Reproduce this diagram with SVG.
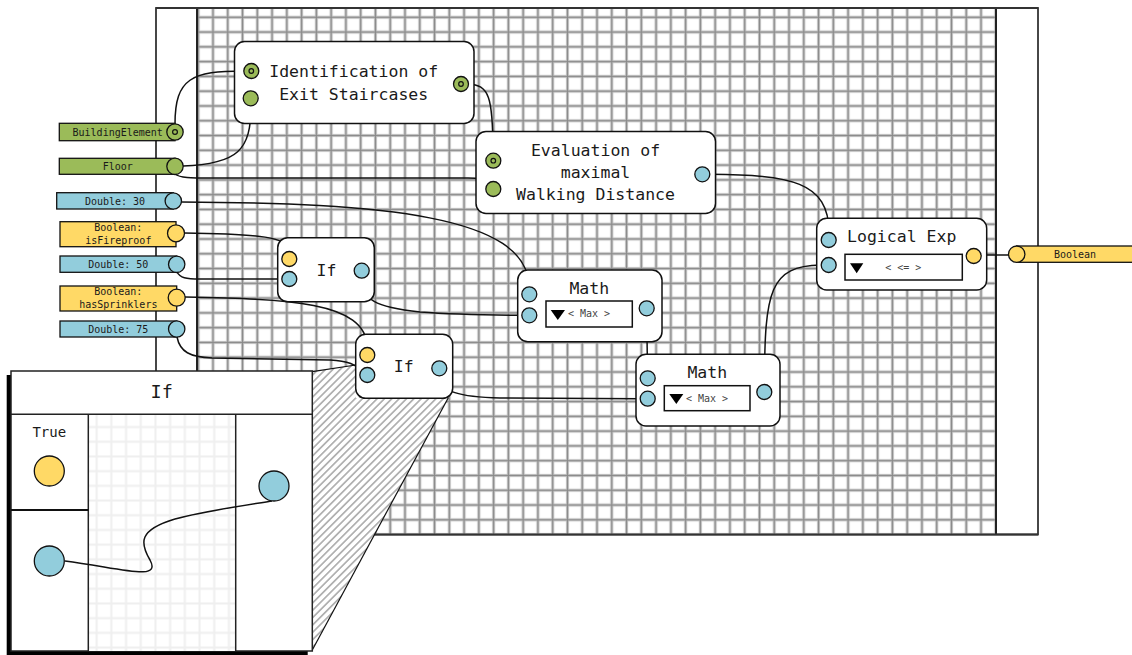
<svg xmlns="http://www.w3.org/2000/svg" width="1132" height="655" viewBox="0 0 1132 655">
<style>
text{font-family:"DejaVu Sans Mono","Liberation Mono",monospace;fill:#1a1a1a;text-anchor:middle}
.t{font-size:16.5px}
.s{font-size:10px}
.dd{font-size:10px;fill:#444}
.node{fill:#fff;stroke:#111;stroke-width:1.5}
.g{fill:#9bbb59;stroke:#111;stroke-width:1.3}
.b{fill:#92cddc;stroke:#111;stroke-width:1.3}
.y{fill:#ffd966;stroke:#111;stroke-width:1.3}
.ring{fill:none;stroke:#111;stroke-width:1.2}
.c{fill:none;stroke:#111;stroke-width:1.5}
.box{fill:#fff;stroke:#111;stroke-width:1.5}
.edge{stroke:#111;stroke-width:1.2;fill:none}
</style>
<defs>
<pattern id="grid" patternUnits="userSpaceOnUse" x="205.6" y="9.9" width="14.77" height="14.78">
<rect width="14.77" height="14.78" fill="#fff"/>
<line x1="7.385" y1="0" x2="7.385" y2="14.78" stroke="#c8c8c8" stroke-width="3.2"/>
<line x1="0" y1="7.39" x2="14.77" y2="7.39" stroke="#c8c8c8" stroke-width="3.2"/>
<line x1="7.385" y1="0" x2="7.385" y2="14.78" stroke="#8a8a8a" stroke-width="1.3"/>
<line x1="0" y1="7.39" x2="14.77" y2="7.39" stroke="#8a8a8a" stroke-width="1.3"/>
</pattern>
<pattern id="fgrid" patternUnits="userSpaceOnUse" x="89.3" y="419.7" width="14.7" height="14.7">
<rect width="14.7" height="14.7" fill="#fff"/>
<line x1="7.35" y1="0" x2="7.35" y2="14.7" stroke="#efefef" stroke-width="2"/>
<line x1="0" y1="7.35" x2="14.7" y2="7.35" stroke="#efefef" stroke-width="2"/>
</pattern>
<pattern id="hatch" patternUnits="userSpaceOnUse" width="5.2" height="5.2" patternTransform="rotate(45)">
<rect width="5.2" height="5.2" fill="#fff"/>
<line x1="2.6" y1="0" x2="2.6" y2="5.2" stroke="#777" stroke-width="1"/>
</pattern>
</defs>

<g id="frame">
<rect x="156" y="8" width="882" height="526.5" fill="#fff" stroke="#333" stroke-width="1.8"/>
<rect x="197" y="8" width="799" height="526.5" fill="url(#grid)"/>
<line x1="197" y1="8" x2="197" y2="534.5" stroke="#222" stroke-width="2"/>
<line x1="996" y1="8" x2="996" y2="534.5" stroke="#222" stroke-width="2"/>
<line x1="156" y1="8" x2="1038" y2="8" stroke="#333" stroke-width="2"/>
<line x1="156" y1="534.5" x2="1038" y2="534.5" stroke="#333" stroke-width="2"/>
</g>

<g id="zoom-hatch">
<polygon points="312.3,371.7 355.7,365 355.7,398 448.3,397.7 312.3,650" fill="url(#hatch)"/>
<line class="edge" x1="312.3" y1="371.7" x2="355.7" y2="365"/>
<line class="edge" x1="448.3" y1="397.7" x2="312.3" y2="650"/>
</g>

<g id="connectors">
<path class="c" d="M175,124 C175,78 192,71 244,71"/>
<path class="c" d="M183,166 C238,164 251,150 251,106"/>
<path class="c" d="M468,84 C489,85 493,96 493,153"/>
<path class="c" d="M175,174 C180,178 190,178 212,178 L468,178 C480,178 486,180 488,183"/>
<path class="c" d="M181,202 C380,203 529,215 529,287"/>
<path class="c" d="M184,233 C260,234 289,237 289,251"/>
<path class="c" d="M177,272 C180,278 186,279 200,279 L281.5,279"/>
<path class="c" d="M185,297 C285,299 367,301 367,347"/>
<path class="c" d="M177,337 C180,352 190,357 212,358 L330,360 C349,361 356,365 361,370"/>
<path class="c" d="M362,278 C362,300 375,307 420,312 C460,315 500,315 521.5,315.3"/>
<path class="c" d="M439.3,376 C440,392 460,397 500,398 L640,398.7"/>
<path class="c" d="M646.7,316 L647.5,371"/>
<path class="c" d="M710,174.3 C790,175 829,181 829,232.5"/>
<path class="c" d="M764.5,384.5 C764.5,290 770,266 821,265"/>
<path class="c" d="M981,255 L1009,255"/>
</g>

<g id="node-identification">
<rect class="node" x="234.5" y="41.5" width="239.5" height="82" rx="10"/>
<text class="t" x="353.7" y="77">Identification of</text>
<text class="t" x="353.7" y="99.5">Exit Staircases</text>
<circle class="g" cx="251.3" cy="71" r="7.5"/><circle class="ring" cx="251.3" cy="71" r="2.3"/>
<circle class="g" cx="250.7" cy="98.3" r="7.5"/>
<circle class="g" cx="461" cy="84" r="7.5"/><circle class="ring" cx="461" cy="84" r="2.3"/>
</g>

<g id="node-evaluation">
<rect class="node" x="476" y="131.5" width="239.5" height="82" rx="10"/>
<text class="t" x="595.5" y="156">Evaluation of</text>
<text class="t" x="595.5" y="177.5">maximal</text>
<text class="t" x="595.5" y="199.5">Walking Distance</text>
<circle class="g" cx="493.3" cy="160.7" r="7.5"/><circle class="ring" cx="493.3" cy="160.7" r="2.3"/>
<circle class="g" cx="493.3" cy="189" r="7.5"/>
<circle class="b" cx="702.3" cy="174.3" r="7.5"/>
</g>

<g id="node-if1">
<rect class="node" x="277.7" y="237.7" width="96.6" height="64" rx="10"/>
<text class="t" x="326.5" y="275.7">If</text>
<circle class="y" cx="289.3" cy="259" r="7.5"/>
<circle class="b" cx="289.3" cy="279" r="7.5"/>
<circle class="b" cx="361.7" cy="270.7" r="7.5"/>
</g>

<g id="node-if2">
<rect class="node" x="355.7" y="334.3" width="97" height="64" rx="10"/>
<text class="t" x="403.8" y="372.3">If</text>
<circle class="y" cx="367.3" cy="355" r="7.5"/>
<circle class="b" cx="367.3" cy="375" r="7.5"/>
<circle class="b" cx="439.3" cy="368.3" r="7.5"/>
</g>

<g id="node-math1">
<rect class="node" x="517.7" y="270" width="144.3" height="71.7" rx="10"/>
<text class="t" x="589.3" y="294">Math</text>
<rect class="box" x="546" y="301" width="86.3" height="26"/>
<polygon points="550.7,310 565,310 557.8,320" fill="#000"/>
<text class="dd" x="589" y="317">&lt; Max &gt;</text>
<circle class="b" cx="529.3" cy="294.3" r="7.5"/>
<circle class="b" cx="529.3" cy="315.3" r="7.5"/>
<circle class="b" cx="646.7" cy="308.3" r="7.5"/>
</g>

<g id="node-math2">
<rect class="node" x="636" y="354.3" width="144" height="71.7" rx="10"/>
<text class="t" x="707.3" y="378.3">Math</text>
<rect class="box" x="664.3" y="385.7" width="85.7" height="25"/>
<polygon points="669.3,394 683.3,394 676.3,404" fill="#000"/>
<text class="dd" x="707" y="402">&lt; Max &gt;</text>
<circle class="b" cx="647.7" cy="378.3" r="7.5"/>
<circle class="b" cx="647.7" cy="398.7" r="7.5"/>
<circle class="b" cx="764.3" cy="392" r="7.5"/>
</g>

<g id="node-logical">
<rect class="node" x="816.7" y="218.3" width="170" height="71.7" rx="10"/>
<text class="t" x="901.7" y="242.3">Logical Exp</text>
<rect class="box" x="845" y="254.3" width="117.3" height="25.7"/>
<polygon points="850,263.3 863.3,263.3 856.7,273.3" fill="#000"/>
<text class="dd" x="903.3" y="270.5">&lt; &lt;= &gt;</text>
<circle class="b" cx="828.7" cy="240" r="7.5"/>
<circle class="b" cx="828.7" cy="265" r="7.5"/>
<circle class="y" cx="973.7" cy="256" r="7.5"/>
</g>

<g id="in-buildingelement">
<rect class="g" x="59.3" y="123.3" width="115.7" height="17.4"/>
<circle class="g" cx="175" cy="132" r="8.2"/><circle class="ring" cx="175" cy="132" r="2.4"/>
<text class="s" x="117.7" y="135.5">BuildingElement</text>
</g>
<g id="in-floor">
<rect class="g" x="59.3" y="158.3" width="115.7" height="16"/>
<circle class="g" cx="175" cy="166.3" r="8.2"/>
<text class="s" x="117.7" y="169.7">Floor</text>
</g>
<g id="in-double30">
<rect class="b" x="56.7" y="192.7" width="116.6" height="16.3"/>
<circle class="b" cx="173.3" cy="201" r="8.2"/>
<text class="s" x="115" y="204.5">Double: 30</text>
</g>
<g id="in-isfireproof">
<rect class="y" x="60" y="221.7" width="116" height="25"/>
<circle class="y" cx="176" cy="233.3" r="8.5"/>
<text class="s" x="118.3" y="231">Boolean:</text>
<text class="s" x="118.3" y="243.5">isFireproof</text>
</g>
<g id="in-double50">
<rect class="b" x="60" y="256" width="116.7" height="16.3"/>
<circle class="b" cx="176.7" cy="264.3" r="8.2"/>
<text class="s" x="118.3" y="267.8">Double: 50</text>
</g>
<g id="in-hassprinklers">
<rect class="y" x="60" y="286" width="116.7" height="25"/>
<circle class="y" cx="176.7" cy="297.7" r="8.5"/>
<text class="s" x="118.3" y="295.3">Boolean:</text>
<text class="s" x="118.3" y="307.8">hasSprinklers</text>
</g>
<g id="in-double75">
<rect class="b" x="60" y="321" width="116.7" height="16"/>
<circle class="b" cx="176.7" cy="329" r="8.2"/>
<text class="s" x="118.3" y="332.7">Double: 75</text>
</g>

<g id="out-boolean">
<rect class="y" x="1016.7" y="246" width="130" height="16.3"/>
<circle class="y" cx="1016.7" cy="254.2" r="8.2"/>
<text class="s" x="1075" y="257.6">Boolean</text>
</g>

<g id="zoom-panel">
<rect x="6.7" y="375" width="301" height="285" fill="#000"/>
<rect x="11" y="371" width="301.3" height="280" fill="#fff" stroke="#222" stroke-width="1.5"/>
<rect x="88.3" y="414.3" width="147.4" height="236.7" fill="url(#fgrid)"/>
<line x1="11" y1="414.3" x2="312.3" y2="414.3" stroke="#222" stroke-width="1.5"/>
<line x1="88.3" y1="414.3" x2="88.3" y2="651" stroke="#222" stroke-width="1.5"/>
<line x1="235.7" y1="414.3" x2="235.7" y2="651" stroke="#222" stroke-width="1.5"/>
<line x1="11" y1="510" x2="88.3" y2="510" stroke="#111" stroke-width="2.2"/>
<text x="161.7" y="398.3" style="font-size:18.5px">If</text>
<text x="49.3" y="436.7" style="font-size:14px">True</text>
<circle class="y" cx="49.3" cy="471" r="15"/>
<path class="c" d="M65,561 C120,568 162,582 150,560 C140,543 138,530 175,519 C205,511 240,506 272,501"/>
<circle class="b" cx="49.3" cy="561" r="15"/>
<circle class="b" cx="274" cy="486" r="15"/>
</g>
</svg>
